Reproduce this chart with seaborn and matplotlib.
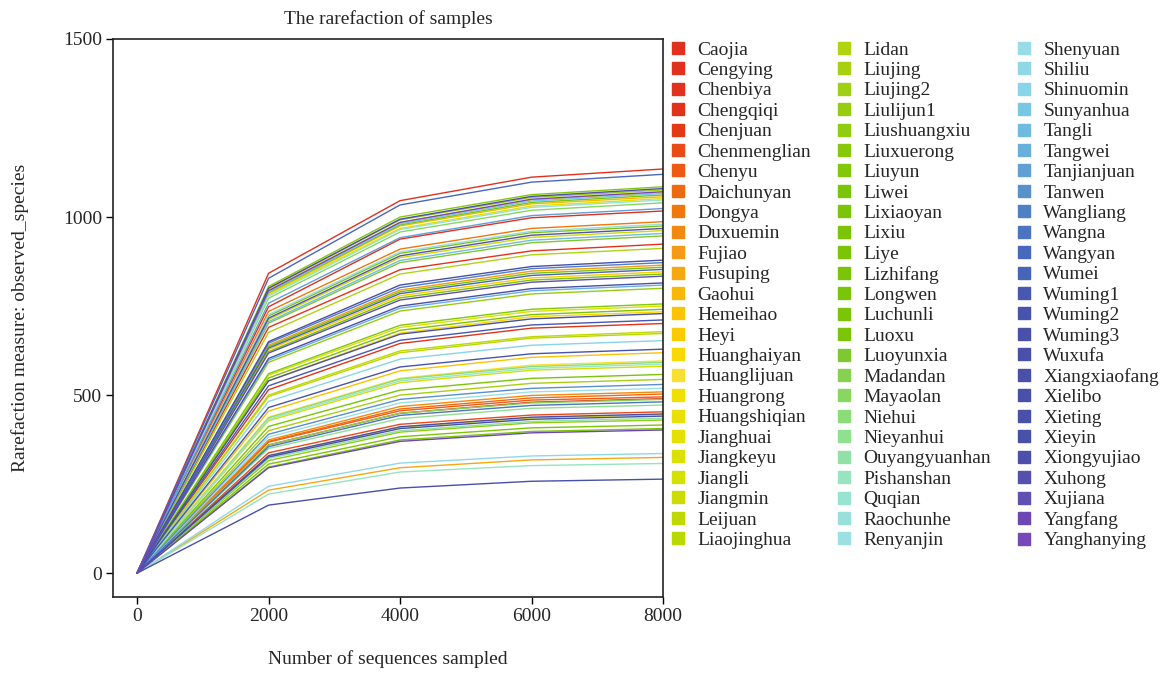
import numpy as np
import pandas as pd
import seaborn as sns
import matplotlib.pyplot as plt
from matplotlib.lines import Line2D

plt.switch_backend("Agg")

# Rarefaction depths (number of sequences sampled)
depths = [0, 2000, 4000, 6000, 8000]

samples = [
    "Caojia", "Cengying", "Chenbiya", "Chengqiqi", "Chenjuan", "Chenmenglian",
    "Chenyu", "Daichunyan", "Dongya", "Duxuemin", "Fujiao", "Fusuping", "Gaohui",
    "Hemeihao", "Heyi", "Huanghaiyan", "Huanglijuan", "Huangrong", "Huangshiqian",
    "Jianghuai", "Jiangkeyu", "Jiangli", "Jiangmin", "Leijuan", "Liaojinghua",
    "Lidan", "Liujing", "Liujing2", "Liulijun1", "Liushuangxiu", "Liuxuerong",
    "Liuyun", "Liwei", "Lixiaoyan", "Lixiu", "Liye", "Lizhifang", "Longwen",
    "Luchunli", "Luoxu", "Luoyunxia", "Madandan", "Mayaolan", "Niehui",
    "Nieyanhui", "Ouyangyuanhan", "Pishanshan", "Quqian", "Raochunhe", "Renyanjin",
    "Shenyuan", "Shiliu", "Shinuomin", "Sunyanhua", "Tangli", "Tangwei",
    "Tanjianjuan", "Tanwen", "Wangliang", "Wangna", "Wangyan", "Wumei", "Wuming1",
    "Wuming2", "Wuming3", "Wuxufa", "Xiangxiaofang", "Xielibo", "Xieting",
    "Xieyin", "Xiongyujiao", "Xuhong", "Xujiana", "Yangfang", "Yanghanying",
]

# observed_species at each depth, in sample order
obs_2000 = [
    842, 748, 690, 515, 360, 338, 368, 370, 735, 374, 640, 233, 785,
    455, 628, 540, 438, 796, 328, 782, 556, 428, 712, 500, 496,
    676, 400, 800, 592, 316, 805, 560, 636, 722, 412, 306, 788, 622,
    298, 548, 702, 360, 772, 436, 350, 322, 222, 432, 778, 382,
    726, 244, 482, 790, 706, 598, 758, 390, 646, 355, 828, 632, 526,
    465, 650, 330, 603, 540, 191, 326, 800, 716, 618, 296, 793,
]
obs_4000 = [
    1046, 938, 852, 645, 449, 418, 456, 461, 910, 468, 795, 296, 975,
    568, 779, 674, 547, 985, 410, 968, 690, 535, 886, 624, 619,
    840, 500, 992, 736, 396, 1000, 696, 790, 898, 514, 383, 978, 773,
    374, 682, 872, 449, 958, 545, 434, 400, 284, 540, 965, 478,
    902, 309, 601, 981, 878, 744, 942, 488, 802, 443, 1034, 785, 654,
    579, 809, 411, 750, 671, 239, 406, 994, 891, 767, 370, 985,
]
obs_6000 = [
    1112, 998, 905, 688, 480, 444, 486, 492, 968, 499, 848, 318, 1037,
    606, 829, 720, 584, 1048, 436, 1031, 735, 570, 943, 664, 660,
    894, 533, 1055, 784, 422, 1063, 741, 842, 956, 547, 408, 1041, 823,
    398, 726, 928, 478, 1019, 580, 463, 426, 302, 575, 1027, 509,
    960, 329, 640, 1045, 935, 793, 1004, 519, 855, 471, 1098, 836, 697,
    616, 861, 438, 799, 714, 258, 432, 1058, 949, 817, 394, 1050,
]
obs_8000 = [
    1135, 1017, 924, 701, 490, 453, 495, 503, 987, 509, 865, 325, 1057,
    619, 846, 734, 596, 1068, 445, 1052, 750, 581, 962, 678, 673,
    912, 544, 1076, 800, 430, 1085, 756, 859, 975, 558, 416, 1062, 840,
    406, 741, 947, 488, 1040, 592, 472, 435, 308, 587, 1048, 519,
    980, 336, 653, 1066, 954, 809, 1024, 530, 872, 481, 1120, 853, 711,
    629, 879, 447, 815, 729, 264, 441, 1080, 968, 834, 402, 1071,
]

colors = [
    "#E0301E", "#E0301E", "#E0321C", "#E0341A", "#E23A16", "#E84A18",
    "#EC5A14", "#EE6A10", "#EE780C", "#F08A10", "#F49A14", "#F6A810", "#F8B808",
    "#FAC400", "#FACC00", "#F8D800", "#F8E030", "#F0E000", "#E8E000",
    "#E4E000", "#DCE000", "#D4E000", "#CCDC00", "#C0D800", "#B8D800",
    "#B0D410", "#A8D010", "#A0D014", "#98CC10", "#90CC10", "#88C80C",
    "#80C808", "#7CC408", "#7CC408", "#7CC408", "#7CC408", "#7CC408", "#7CC408",
    "#7CC408", "#7CC408", "#80C830", "#88D050", "#88D860", "#8CDC78",
    "#90E090", "#90E0A8", "#98E4C0", "#98E4D0", "#98E0DC", "#9CE0E4",
    "#98DCE8", "#90D8E8", "#88D4E8", "#78C8E4", "#70BCE0", "#68B0DC",
    "#60A0D4", "#5890CC", "#5080C4", "#4C74C0", "#4868BC", "#4864B8", "#4858B0",
    "#4854AC", "#4850A8", "#4850A8", "#4850A8", "#4850A8", "#4850A8",
    "#4850A8", "#4C50AC", "#5450AC", "#6050B0", "#6C48B4", "#7848B8",
]

# Long-format table for seaborn
rows = []
for i, name in enumerate(samples):
    values = [0, obs_2000[i], obs_4000[i], obs_6000[i], obs_8000[i]]
    for d, v in zip(depths, values):
        rows.append({"Sample": name, "Depth": d, "Observed": v})
df = pd.DataFrame(rows)

sns.set_theme(style="ticks")
plt.rcParams["font.family"] = ["Liberation Serif", "DejaVu Serif"]

fig = plt.figure(figsize=(11.71, 6.73), dpi=100)
ax = fig.add_axes([113 / 1171, 1 - 597 / 673, 550 / 1171, 558 / 673])

sns.lineplot(
    data=df, x="Depth", y="Observed", hue="Sample", hue_order=samples,
    palette=colors, linewidth=1.0, legend=False, ax=ax,
)

ax.set_xlim(-366, 8000)
ax.set_ylim(-67, 1500)
ax.set_xticks([0, 2000, 4000, 6000, 8000])
ax.set_yticks([0, 500, 1000, 1500])
ax.tick_params(axis="both", labelsize=14, length=5, width=1, color="black",
               direction="out", pad=3)
for spine in ax.spines.values():
    spine.set_visible(True)
    spine.set_color("#222222")
    spine.set_linewidth(1.2)

ax.set_title("The rarefaction of samples", fontsize=14, pad=11)
ax.set_xlabel("Number of sequences sampled", fontsize=14, labelpad=18)
ax.set_ylabel("Rarefaction measure: observed_species", fontsize=14, labelpad=24)

handles = [
    Line2D([], [], marker="s", linestyle="none", markersize=8,
           markerfacecolor=c, markeredgecolor=c)
    for c in colors
]
fig.legend(
    handles, samples, loc="upper left", bbox_to_anchor=(670 / 1171, 1 - 41 / 673),
    ncol=3, frameon=False, fontsize=14, handlelength=0.8, handletextpad=0.6,
    columnspacing=1.3, labelspacing=0.145, borderpad=0, borderaxespad=0,
)

fig.savefig("out.png", dpi=100)
plt.close(fig)
